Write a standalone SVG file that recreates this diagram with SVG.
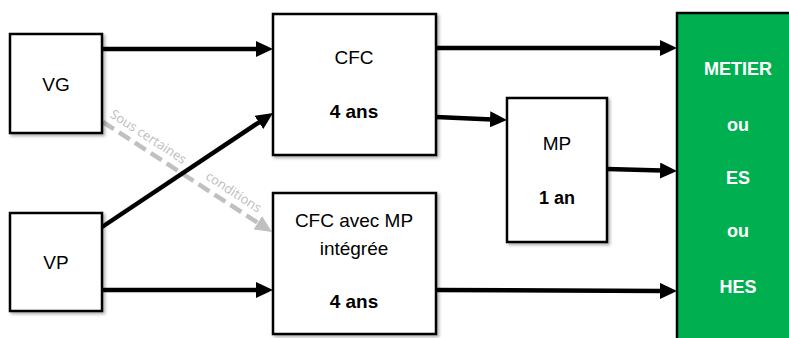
<svg xmlns="http://www.w3.org/2000/svg" width="789" height="338" viewBox="0 0 789 338">
<style>
.box{fill:#fff;stroke:#000;stroke-width:2.5;filter:url(#sh)}
.t{font-family:"Liberation Sans",Arial,sans-serif;font-size:19px;fill:#000;text-anchor:middle}
.b{font-weight:bold}
.g{font-family:"Liberation Sans",Arial,sans-serif;font-size:18px;font-weight:bold;fill:#fff;text-anchor:middle}
.c{stroke:#000;stroke-width:4.5;fill:none;marker-end:url(#ah)}
.d{stroke:#c0c0c0;stroke-width:4.5;fill:none;stroke-dasharray:13 6;marker-end:url(#ahg)}
.lab{font-family:"Open Sans","Liberation Sans",sans-serif;font-size:13px;fill:#bdbdbd}
</style>
<defs>
<filter id="sh" x="-10%" y="-10%" width="130%" height="130%">
<feDropShadow dx="2" dy="2" stdDeviation="1.5" flood-color="#000" flood-opacity="0.3"/>
</filter>
<marker id="ah" markerUnits="userSpaceOnUse" markerWidth="18" markerHeight="16" refX="2" refY="8" orient="auto">
<path d="M0,0 L17,8 L0,16 z" fill="#000"/>
</marker>
<marker id="ahg" markerUnits="userSpaceOnUse" markerWidth="18" markerHeight="16" refX="2" refY="8" orient="auto">
<path d="M0,0 L17,8 L0,16 z" fill="#c0c0c0"/>
</marker>
</defs>
<rect width="789" height="338" fill="#fff"/>
<g id="connectors">
<line class="d" x1="103" y1="122" x2="259.4" y2="223.8"/>
<line class="c" x1="102" y1="49" x2="258" y2="49"/>
<line class="c" x1="102" y1="227" x2="260.5" y2="121.3"/>
<line class="c" x1="102" y1="290" x2="258" y2="290"/>
<line class="c" x1="436" y1="48" x2="662" y2="48"/>
<line class="c" x1="436" y1="117" x2="492" y2="119.4"/>
<line class="c" x1="607" y1="169" x2="662" y2="170.6"/>
<line class="c" x1="436" y1="290" x2="662" y2="290.9"/>
<g transform="translate(103,122) rotate(33)">
<text class="lab" x="2" y="-8">Sous certaines</text>
<text class="lab" x="116" y="-8">conditions</text>
</g>
</g>
<g id="VG">
<rect class="box" x="10" y="34" width="92" height="99"/>
<text class="t" x="56" y="91">VG</text>
</g>
<g id="VP">
<rect class="box" x="10" y="213" width="92" height="98"/>
<text class="t" x="56" y="269">VP</text>
</g>
<g id="CFC">
<rect class="box" x="273" y="14" width="163" height="141"/>
<text class="t" x="354" y="64">CFC</text>
<text class="t b" x="354" y="118">4 ans</text>
</g>
<g id="CFCMP">
<rect class="box" x="273" y="193" width="163" height="141"/>
<text class="t" x="354" y="227">CFC avec MP</text>
<text class="t" x="354" y="255">intégrée</text>
<text class="t b" x="354" y="308">4 ans</text>
</g>
<g id="MP">
<rect class="box" x="507" y="98" width="100" height="144"/>
<text class="t" x="557" y="150">MP</text>
<text class="t b" x="557" y="204" style="font-size:18px">1 an</text>
</g>
<g id="Sortie">
<rect x="677" y="13" width="130" height="340" fill="#00b050" stroke="#000" stroke-width="2.5"/>
<text class="g" x="738" y="75">METIER</text>
<text class="g" x="738" y="131">ou</text>
<text class="g" x="738" y="184">ES</text>
<text class="g" x="738" y="237">ou</text>
<text class="g" x="738" y="293">HES</text>
</g>
</svg>
